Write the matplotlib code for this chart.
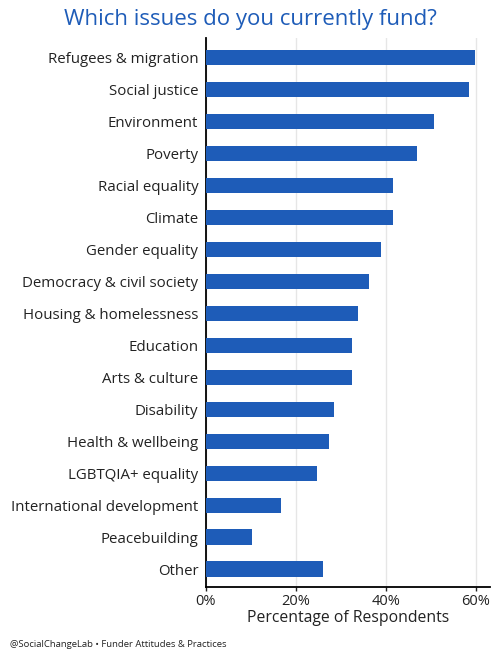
import numpy as np
import matplotlib.pyplot as plt
from matplotlib.ticker import PercentFormatter

# survey categories, top to bottom as shown
issues = [
    "Refugees & migration", "Social justice", "Environment", "Poverty",
    "Racial equality", "Climate", "Gender equality",
    "Democracy & civil society", "Housing & homelessness", "Education",
    "Arts & culture", "Disability", "Health & wellbeing", "LGBTQIA+ equality",
    "International development", "Peacebuilding", "Other",
]
# percentage of respondents funding each issue
pct = [59.8, 58.5, 50.7, 46.8, 41.6, 41.6, 38.9, 36.3, 33.7, 32.4,
       32.4, 28.5, 27.3, 24.6, 16.7, 10.3, 25.9]
xticks = [0, 20, 40, 60]

BLUE = "#1e5cb8"
TXT = "#222222"

plt.rcParams['font.family'] = ['Open Sans', 'DejaVu Sans']

fig = plt.figure(figsize=(5, 6.6), dpi=100)
ax = fig.add_axes([0.412, 0.1106, 0.568, 0.8318])

y = np.arange(len(issues))
ax.barh(y, pct, height=0.48, color=BLUE, zorder=3)
ax.set_yticks(y)
ax.set_yticklabels(issues, fontsize=10.8, color=TXT)
ax.set_ylim(len(issues) - 0.44, -0.62)

ax.set_xlim(0, 63.1)
ax.set_xticks(xticks)
ax.xaxis.set_major_formatter(PercentFormatter(decimals=0))
ax.tick_params(axis='x', labelsize=10.5, colors=TXT, length=3, width=1, pad=2)
ax.tick_params(axis='y', length=0, pad=5.5)
ax.grid(axis='x', color="#e6e6e6", linewidth=1, zorder=0)

for s in ['top', 'right']:
    ax.spines[s].set_visible(False)
for s in ['left', 'bottom']:
    ax.spines[s].set_color('black')
    ax.spines[s].set_linewidth(1.3)

ax.set_xlabel("Percentage of Respondents", fontsize=11.3, color=TXT, labelpad=1)

fig.text(0.5, 0.971, "Which issues do you currently fund?", ha='center', va='center',
         fontsize=16, color=BLUE)
fig.text(0.02, 0.023, "@SocialChangeLab • Funder Attitudes & Practices", ha='left',
         va='center', fontsize=6.8, color=TXT)

fig.savefig("out.png", dpi=100)
